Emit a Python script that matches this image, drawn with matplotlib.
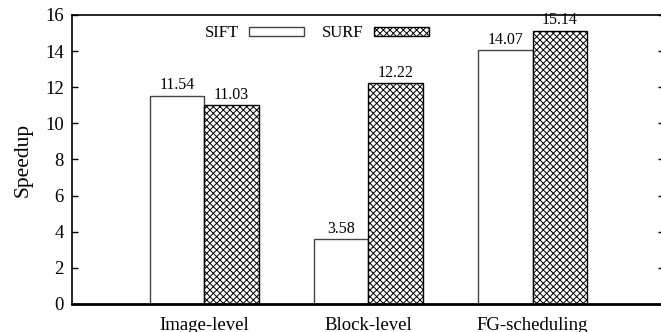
import numpy as np
import matplotlib
matplotlib.use("Agg")
import matplotlib.pyplot as plt

plt.rcParams['font.family'] = ['Liberation Serif', 'DejaVu Serif']
plt.rcParams['hatch.linewidth'] = 0.7

# speedup per parallelisation strategy
categories = ["Image-level", "Block-level", "FG-scheduling"]
sift = [11.54, 3.58, 14.07]
surf = [11.03, 12.22, 15.14]
yticks = [0, 2, 4, 6, 8, 10, 12, 14, 16]

fig = plt.figure(figsize=(6.61, 3.32), dpi=100)
ax = fig.add_axes([72 / 661, 28 / 332, 592 / 661, 289 / 332])

x = np.arange(1, len(categories) + 1)
w = 0.333

b1 = ax.bar(x - w / 2, sift, w, color="white", edgecolor="#444444", linewidth=1.0, label="SIFT")
b2 = ax.bar(x + w / 2, surf, w, color="white", edgecolor="black", linewidth=1.0,
            hatch="xxxxx", label="SURF")

# value labels above each bar
for bars, vals in ((b1, sift), (b2, surf)):
    for r, v in zip(bars, vals):
        ax.annotate(f"{v:.2f}", (r.get_x() + r.get_width() / 2, v),
                    xytext=(0, 1.5), textcoords="offset points",
                    ha="center", va="bottom", fontsize=11.5)

ax.set_xlim(0.195, 3.8)
ax.set_ylim(0, 16)
ax.set_yticks(yticks)
ax.set_xticks(x)
ax.set_xticklabels(categories, fontsize=13.5)
ax.tick_params(axis="x", length=0, pad=9)
ax.tick_params(axis="y", direction="in", length=4.5, width=1, labelsize=13.5,
               right=True, pad=6)
ax.set_ylabel("Speedup", fontsize=15.5, labelpad=9)

for side in ("left", "top", "right"):
    ax.spines[side].set_linewidth(1.2)
ax.spines["bottom"].set_linewidth(2.0)

ax.legend(loc="center", bbox_to_anchor=(0.4137, 0.936), ncol=2, frameon=False,
          markerfirst=False, fontsize=12, handlelength=3.3, handleheight=0.45,
          handletextpad=0.62, columnspacing=1.05, borderpad=0)

fig.savefig("out.png", dpi=100)
